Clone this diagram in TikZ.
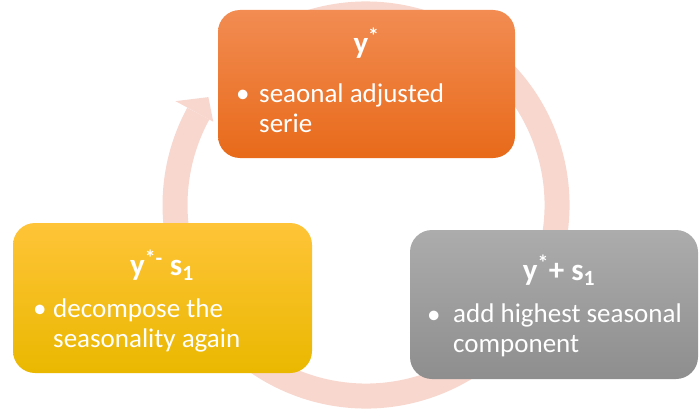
\documentclass[tikz,border=0pt]{standalone}
\usepackage{fontspec}
\setmainfont{Carlito}
\usepackage{xcolor}
\usetikzlibrary{positioning,calc}

\definecolor{ringpink}{RGB}{248,215,206}
\definecolor{orangetop}{RGB}{242,140,82}
\definecolor{orangebot}{RGB}{232,106,26}
\definecolor{yellowtop}{RGB}{255,196,56}
\definecolor{yellowbot}{RGB}{234,184,0}
\definecolor{graytop}{RGB}{172,172,172}
\definecolor{graybot}{RGB}{142,142,142}

\tikzset{
    stagebox/.style={draw=none, rounded corners=22pt, inner sep=0pt},
    stagetitle/.style={anchor=base, text=white, font=\fontsize{31}{36}\selectfont\bfseries},
    stagetext/.style={anchor=base west, text=white, align=left, inner sep=0pt, font=\fontsize{27}{30}\selectfont},
    stagedot/.style={anchor=base west, text=white, inner sep=0pt, font=\fontsize{27}{30}\selectfont}
}

\begin{document}
\begin{tikzpicture}[x=1pt,y=1pt]
    \useasboundingbox (0,0) rectangle (700,408);

    % Ring behind the boxes
    \coordinate (ctr) at (366,203);
    \begin{scope}[shift={(ctr)}]
        \draw[ringpink, line width=25pt] (110:191) arc[start angle=110, end angle=-208.6, radius=191];
        \fill[ringpink] (151.4:217) -- (145.6:191) -- (151.4:174) -- cycle;
    \end{scope}

    % Boxes
    \node[stagebox, top color=orangetop, bottom color=orangebot, minimum width=297pt, minimum height=148pt] (adj) at (366.5,324) {};
    \node[stagebox, top color=yellowtop, bottom color=yellowbot, minimum width=299pt, minimum height=150pt] (dec) at (162.5,110) {};
    \node[stagebox, top color=graytop, bottom color=graybot, minimum width=288pt, minimum height=149pt] (add) at (554,103.5) {};

    % Top box text (base = last line)
    \node[stagetitle] (adjtitle) at (366.5,355) {y\textsuperscript{*}};
    \node[stagedot] (adjdot) at (236,306) {\textbullet};
    \node[stagetext] (adjtext) at (259,276) {seaonal adjusted\\serie};

    % Left box text
    \node[stagetitle] (dectitle) at (162,133) {y\textsuperscript{*-} s\textsubscript{1}};
    \node[stagedot] (decdot) at (33,91) {\textbullet};
    \node[stagetext] (dectext) at (53,61) {decompose the\\seasonality again};

    % Right box text
    \node[stagetitle] (addtitle) at (559,128) {y\textsuperscript{*}+ s\textsubscript{1}};
    \node[stagedot] (adddot) at (427,85) {\textbullet};
    \node[stagetext] (addtext) at (453,56) {add highest seasonal\\component};

\end{tikzpicture}
\end{document}
